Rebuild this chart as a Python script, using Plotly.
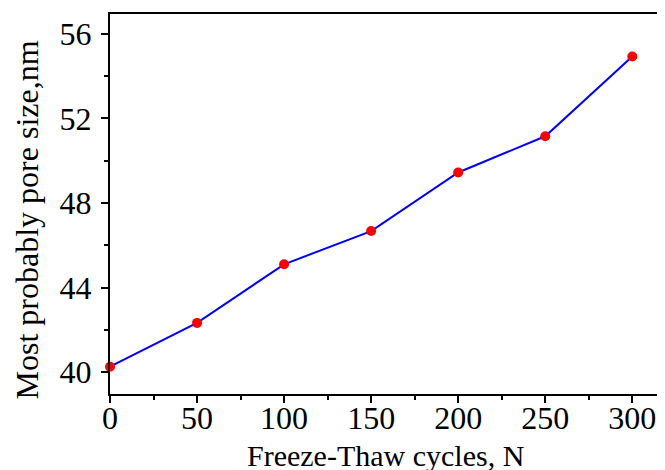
import plotly.graph_objects as go

cycles = [0, 50, 100, 150, 200, 250, 300]
pore_size = [40.26, 42.33, 45.1, 46.67, 49.44, 51.15, 54.92]
x_ticks = [0, 50, 100, 150, 200, 250, 300]
y_ticks = [40, 44, 48, 52, 56]
x_title = "Freeze-Thaw cycles, N"
y_title = "Most probably pore size,nm"

font = "Liberation Serif, Times New Roman, serif"

fig = go.Figure()
fig.add_trace(go.Scatter(
    x=cycles, y=pore_size, mode="lines+markers",
    line=dict(color="#0000ff", width=2),
    marker=dict(color="#ff0000", size=10),
    cliponaxis=False,
))

# page body has an 8px default margin, so the figure is sized/offset to compensate
fig.update_layout(
    width=657, height=462,
    margin=dict(l=102, r=0, t=6, b=76, autoexpand=False),
    paper_bgcolor="white", plot_bgcolor="white",
    showlegend=False,
    font=dict(family=font, color="black"),
    xaxis=dict(
        range=[0, 318.8], tickvals=x_ticks, automargin=False,
        ticks="outside", ticklen=7, tickwidth=2, tickcolor="black",
        showline=True, linecolor="black", linewidth=2, mirror=True,
        showgrid=False, zeroline=False, ticklabelstandoff=-12,
        tickfont=dict(size=32, family=font),
        minor=dict(tickvals=[25, 75, 125, 175, 225, 275], ticks="outside", ticklen=4, tickwidth=2, tickcolor="black", showgrid=False),
    ),
    yaxis=dict(
        range=[38.97, 56.93], tickvals=y_ticks, automargin=False,
        ticks="outside", ticklen=7, tickwidth=2, tickcolor="black",
        showline=True, linecolor="black", linewidth=2, mirror=False,
        showgrid=False, zeroline=False, ticklabelstandoff=3,
        tickfont=dict(size=32, family=font),
        minor=dict(tickvals=[42, 46, 50, 54], ticks="outside", ticklen=4, tickwidth=2, tickcolor="black", showgrid=False),
    ),
    annotations=[
        dict(text=x_title, xref="paper", yref="paper", x=0.497, y=-0.161,
             xanchor="center", yanchor="middle", showarrow=False,
             font=dict(size=30, family=font, color="black")),
        dict(text=y_title, xref="paper", yref="paper", x=-0.1494, y=0.457,
             xanchor="center", yanchor="middle", showarrow=False, textangle=-90,
             font=dict(size=32, family=font, color="black")),
    ],
)

fig.write_html("out.html")
